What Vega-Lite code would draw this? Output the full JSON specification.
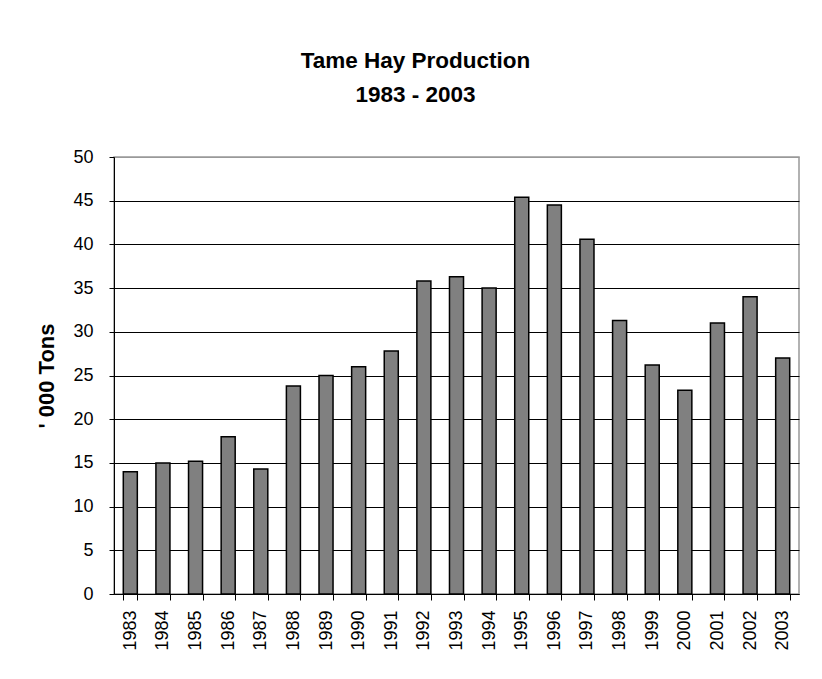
{
  "$schema": "https://vega.github.io/schema/vega-lite/v6.json",
  "autosize": {"type": "none"},
  "padding": {"left": 114, "top": 157, "right": 23, "bottom": 85},
  "width": 685,
  "height": 437,
  "background": "white",
  "title": {
    "text": ["Tame Hay Production", "1983 - 2003"],
    "font": "Liberation Sans",
    "fontSize": 22.5,
    "fontWeight": "bold",
    "color": "black",
    "lineHeight": 34,
    "anchor": "middle",
    "dx": -41,
    "offset": 42
  },
  "data": {
    "values": [
      {"year": "1983", "tons": 14.0},
      {"year": "1984", "tons": 15.0},
      {"year": "1985", "tons": 15.2},
      {"year": "1986", "tons": 18.0},
      {"year": "1987", "tons": 14.3},
      {"year": "1988", "tons": 23.8},
      {"year": "1989", "tons": 25.0},
      {"year": "1990", "tons": 26.0},
      {"year": "1991", "tons": 27.8},
      {"year": "1992", "tons": 35.8},
      {"year": "1993", "tons": 36.3},
      {"year": "1994", "tons": 35.0},
      {"year": "1995", "tons": 45.4},
      {"year": "1996", "tons": 44.5},
      {"year": "1997", "tons": 40.6},
      {"year": "1998", "tons": 31.3},
      {"year": "1999", "tons": 26.2},
      {"year": "2000", "tons": 23.3},
      {"year": "2001", "tons": 31.0},
      {"year": "2002", "tons": 34.0},
      {"year": "2003", "tons": 27.0}
    ]
  },
  "mark": {"type": "bar", "fill": "#808080", "stroke": "black", "strokeWidth": 1.5},
  "encoding": {
    "x": {
      "field": "year",
      "type": "ordinal",
      "scale": {"paddingInner": 0.57, "paddingOuter": 0.285},
      "axis": {
        "title": null,
        "labelAngle": 270,
        "labelFont": "Liberation Sans",
        "labelFontSize": 18,
        "labelColor": "black",
        "labelPadding": 10,
        "tickBand": "extent",
        "tickSize": 6,
        "tickColor": "black",
        "domainColor": "black",
        "grid": false
      }
    },
    "y": {
      "field": "tons",
      "type": "quantitative",
      "scale": {"domain": [0, 50], "nice": false},
      "axis": {
        "title": "' 000 Tons",
        "titleFont": "Liberation Sans",
        "titleFontSize": 22,
        "titleFontWeight": "bold",
        "titleColor": "black",
        "titlePadding": 14,
        "values": [0, 5, 10, 15, 20, 25, 30, 35, 40, 45, 50],
        "labelFont": "Liberation Sans",
        "labelFontSize": 18,
        "labelColor": "black",
        "labelPadding": 16,
        "tickSize": 5,
        "tickColor": "black",
        "domainColor": "black",
        "grid": true,
        "gridColor": {"condition": {"test": "datum.value == 50", "value": "#999999"}, "value": "black"},
        "gridOpacity": 1,
        "gridWidth": 1
      }
    }
  },
  "config": {
    "view": {"stroke": "#999999", "strokeWidth": 1.5}
  }
}
